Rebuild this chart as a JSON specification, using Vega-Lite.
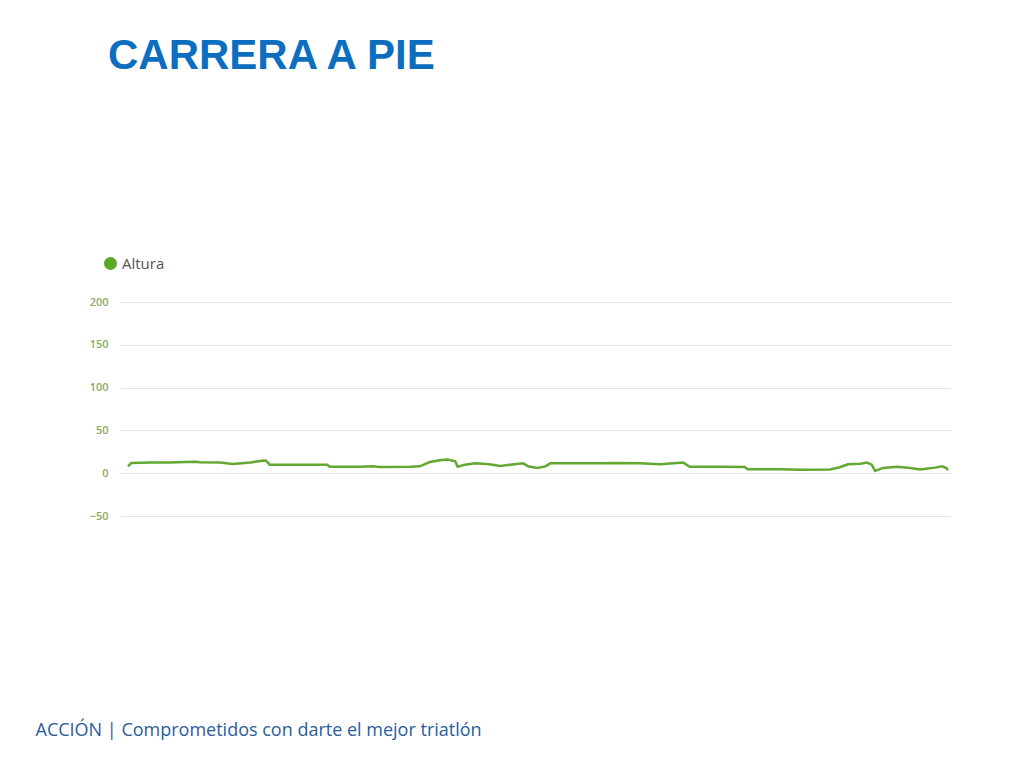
{
  "$schema": "https://vega.github.io/schema/vega-lite/v6.json",
  "width": 830,
  "height": 214,
  "autosize": {"type": "none"},
  "padding": {"left": 120, "top": 302, "right": 74, "bottom": 252},
  "background": "white",
  "title": {
    "text": "CARRERA A PIE",
    "anchor": "start",
    "frame": "group",
    "font": "Liberation Sans, Arial, sans-serif",
    "fontSize": 42,
    "fontWeight": "bold",
    "color": "#0d6ebf",
    "dx": -12,
    "offset": 178
  },
  "data": {
    "values": [
      {"km": 0.00, "altura": 8},
      {"km": 0.04, "altura": 12},
      {"km": 0.27, "altura": 12.5},
      {"km": 0.51, "altura": 12.5},
      {"km": 0.70, "altura": 13},
      {"km": 0.82, "altura": 13.5},
      {"km": 0.88, "altura": 12.8},
      {"km": 1.12, "altura": 12.5},
      {"km": 1.28, "altura": 10.8},
      {"km": 1.49, "altura": 12.5},
      {"km": 1.63, "altura": 14.5},
      {"km": 1.68, "altura": 14.8},
      {"km": 1.73, "altura": 10},
      {"km": 2.10, "altura": 10},
      {"km": 2.43, "altura": 9.8},
      {"km": 2.46, "altura": 7.5},
      {"km": 2.83, "altura": 7.5},
      {"km": 2.98, "altura": 8},
      {"km": 3.07, "altura": 7.3},
      {"km": 3.44, "altura": 7.5},
      {"km": 3.56, "altura": 8},
      {"km": 3.68, "altura": 13},
      {"km": 3.80, "altura": 15},
      {"km": 3.90, "altura": 16},
      {"km": 3.99, "altura": 14},
      {"km": 4.02, "altura": 7.5},
      {"km": 4.11, "altura": 10},
      {"km": 4.23, "altura": 11.5},
      {"km": 4.41, "altura": 10.5},
      {"km": 4.54, "altura": 8.5},
      {"km": 4.66, "altura": 10},
      {"km": 4.82, "altura": 11.5},
      {"km": 4.88, "altura": 8},
      {"km": 4.99, "altura": 6},
      {"km": 5.09, "altura": 8},
      {"km": 5.15, "altura": 11.5},
      {"km": 5.51, "altura": 11.5},
      {"km": 5.76, "altura": 11.5},
      {"km": 5.94, "altura": 12},
      {"km": 6.24, "altura": 11.5},
      {"km": 6.49, "altura": 10.5},
      {"km": 6.77, "altura": 12.5},
      {"km": 6.85, "altura": 7.5},
      {"km": 7.22, "altura": 7.5},
      {"km": 7.52, "altura": 7.2},
      {"km": 7.56, "altura": 4.5},
      {"km": 7.95, "altura": 4.5},
      {"km": 8.20, "altura": 4},
      {"km": 8.56, "altura": 4.3},
      {"km": 8.68, "altura": 7},
      {"km": 8.78, "altura": 10.5},
      {"km": 8.93, "altura": 11},
      {"km": 9.01, "altura": 12.5},
      {"km": 9.07, "altura": 10},
      {"km": 9.11, "altura": 2.7},
      {"km": 9.21, "altura": 6.2},
      {"km": 9.38, "altura": 7.5},
      {"km": 9.54, "altura": 6},
      {"km": 9.66, "altura": 4.3},
      {"km": 9.84, "altura": 6.5},
      {"km": 9.93, "altura": 8},
      {"km": 9.98, "altura": 6},
      {"km": 10.00, "altura": 3.5}
    ]
  },
  "transform": [{"calculate": "'Altura'", "as": "serie"}],
  "mark": {"type": "line", "strokeWidth": 2.5, "interpolate": "linear"},
  "encoding": {
    "x": {
      "field": "km",
      "type": "quantitative",
      "scale": {"domain": [-0.0976, 10.024], "nice": false, "zero": false},
      "axis": {
        "labels": false,
        "ticks": false,
        "domain": false,
        "grid": false,
        "title": "ACCIÓN  |  Comprometidos con darte el mejor triatlón",
        "titleAnchor": "start",
        "titleAlign": "left",
        "titleBaseline": "middle",
        "titleX": -85,
        "titleY": 214,
        "titleFont": "Open Sans",
        "titleFontSize": 18,
        "titleFontWeight": "normal",
        "titleColor": "#2a5d9a"
      }
    },
    "y": {
      "field": "altura",
      "type": "quantitative",
      "scale": {"domain": [-50, 200], "nice": false},
      "axis": {
        "values": [-50, 0, 50, 100, 150, 200],
        "title": null,
        "ticks": false,
        "domain": false,
        "labelPadding": 12,
        "labelFont": "Open Sans",
        "labelFontSize": 11,
        "labelFontWeight": 600,
        "labelColor": "#8aab5c",
        "gridColor": "#e4e4e4",
        "gridWidth": 1
      }
    },
    "color": {
      "field": "serie",
      "type": "nominal",
      "scale": {"range": ["#62a831"]},
      "legend": {
        "title": null,
        "orient": "none",
        "legendX": -17,
        "legendY": -46,
        "symbolType": "circle",
        "symbolSize": 170,
        "symbolFillColor": "#5aaa28",
        "symbolStrokeColor": "#5aaa28",
        "symbolStrokeWidth": 0,
        "labelFont": "Open Sans",
        "labelFontSize": 15,
        "labelColor": "#555555",
        "labelOffset": 4
      }
    }
  },
  "config": {"view": {"stroke": null}}
}
